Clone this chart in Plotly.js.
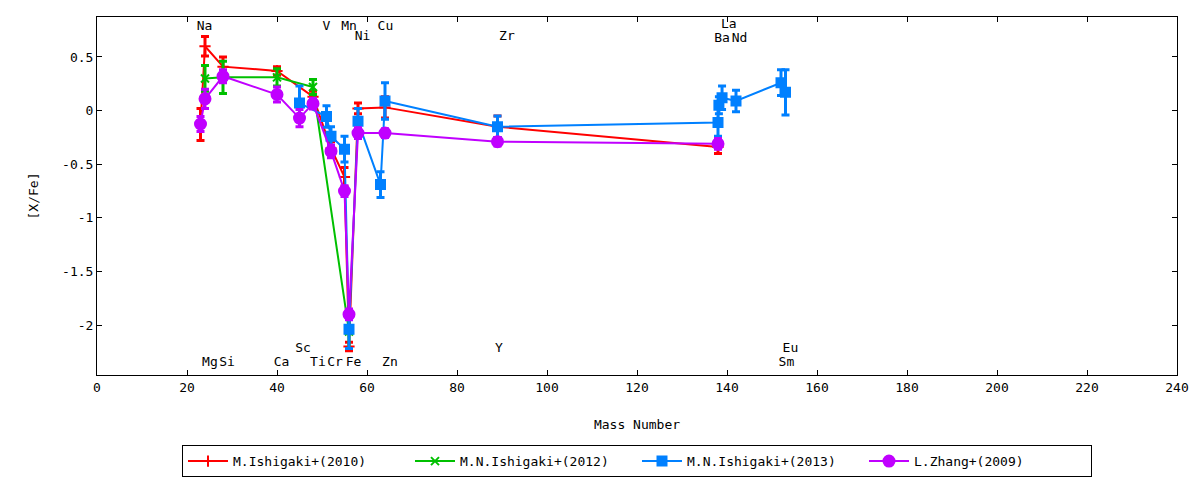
<!DOCTYPE html>
<html>
<head>
<meta charset="utf-8">
<script src="https://cdn.plot.ly/plotly-3.0.1.min.js"></script>
<style>html,body{margin:0;padding:0;background:#fff;}#chart{width:1200px;height:480px;}</style>
</head>
<body>
<div id="chart"></div>
<script>
// M.Ishigaki+(2010)
const redX   = [23, 24, 28, 40, 48, 52, 55, 56, 58, 64, 89, 138];
const redY   = [-0.13, 0.60, 0.41, 0.37, 0.13, -0.35, -0.62, -2.20, 0.02, 0.03, -0.15, -0.34];
const redErr = [0.15, 0.09, 0.09, 0.04, 0.05, 0.06, 0.09, 0.04, 0.05, 0.10, 0.10, 0.06];
// M.N.Ishigaki+(2012)
const greenX   = [24, 28, 40, 48, 56];
const greenY   = [0.30, 0.31, 0.31, 0.22, -2.06];
const greenErr = [0.12, 0.15, 0.08, 0.07, 0.16];
// M.N.Ishigaki+(2013)
const blueX   = [45, 51, 52, 55, 56, 58, 63, 64, 89, 138, 138.2, 138.9, 142, 152, 153];
const blueY   = [0.07, -0.055, -0.24, -0.36, -2.04, -0.10, -0.69, 0.09, -0.15, -0.11, 0.05, 0.12, 0.09, 0.26, 0.17];
const blueErr = [0.16, 0.10, 0.09, 0.12, 0.18, 0.12, 0.12, 0.17, 0.10, 0.13, 0.08, 0.11, 0.10, 0.12, 0.21];
// L.Zhang+(2009)
const purpleX   = [23, 24, 28, 40, 45, 48, 52, 55, 56, 58, 64, 89, 138];
const purpleY   = [-0.125, 0.11, 0.32, 0.15, -0.07, 0.065, -0.38, -0.75, -1.90, -0.21, -0.21, -0.29, -0.31];
const purpleErr = [0.07, 0.09, 0.06, 0.07, 0.08, 0.05, 0.06, 0.05, 0.05, 0.05, 0.04, 0.04, 0.05];

// element labels
const elemNames = ["Na","V","Mn","Cu","La","Ni","Zr","Ba","Nd","Sc","Y","Eu","Mg","Si","Ca","Ti","Cr","Fe","Zn","Sm"];
const elemX     = [23.9, 51, 56, 64.1, 140.4, 59, 91.1, 138.9, 142.8, 45.8, 89.3, 154.1, 25.1, 28.9, 41, 49.1, 52.9, 57, 65.1, 153.2];
const elemY     = [0.78, 0.78, 0.78, 0.78, 0.80, 0.687, 0.687, 0.672, 0.672, -2.22, -2.22, -2.22, -2.355, -2.355, -2.355, -2.355, -2.355, -2.355, -2.355, -2.355];

const xTicks = [0, 20, 40, 60, 80, 100, 120, 140, 160, 180, 200, 220, 240];
const yTicks = [0.5, 0, -0.5, -1, -1.5, -2];
const yTickText = ["0.5", "0", "-0.5", "-1", "-1.5", "-2"];

const FONT = "DejaVu Sans Mono, monospace";

function series(name, x, y, err, color, symbol, msize) {
  return {
    type: 'scatter', mode: 'lines+markers', name: name, x: x, y: y,
    line: {color: color, width: 2},
    marker: {color: color, symbol: symbol, size: msize, line: {color: color, width: 2}},
    error_y: {type: 'data', array: err, visible: true, color: color, thickness: 3, width: 4},
    cliponaxis: false
  };
}

const traces = [
  series('M.Ishigaki+(2010)', redX, redY, redErr, '#ff0000', 'cross-thin', 8),
  series('M.N.Ishigaki+(2012)', greenX, greenY, greenErr, '#00c000', 'x-thin', 8),
  series('M.N.Ishigaki+(2013)', blueX, blueY, blueErr, '#0080ff', 'square', 9),
  series('L.Zhang+(2009)', purpleX, purpleY, purpleErr, '#c000ff', 'circle', 11),
  {type: 'scatter', mode: 'text', x: elemX, y: elemY, text: elemNames, showlegend: false,
   textposition: 'middle center', textfont: {family: FONT, size: 13, color: '#000'}, hoverinfo: 'skip', cliponaxis: false}
];

const layout = {
  width: 1200, height: 480,
  margin: {l: 97, r: 23, t: 17, b: 105, autoexpand: false},
  paper_bgcolor: '#fff', plot_bgcolor: '#fff',
  font: {family: FONT, size: 13, color: '#000'},
  showlegend: true,
  xaxis: {
    range: [0, 240], tickvals: xTicks, ticks: 'inside', ticklen: 5, tickcolor: '#000',
    showline: true, linecolor: '#000', linewidth: 1, mirror: 'ticks', showgrid: false, zeroline: false,
    title: {text: 'Mass Number', font: {family: FONT, size: 13}, standoff: 26},
    tickfont: {family: FONT, size: 13}
  },
  yaxis: {
    range: [-2.466, 0.873], tickvals: yTicks, ticktext: yTickText, ticks: 'inside', ticklen: 5, tickcolor: '#000',
    showline: true, linecolor: '#000', linewidth: 1, mirror: 'ticks', showgrid: false, zeroline: false,
    title: {text: '[X/Fe]', font: {family: FONT, size: 13}, standoff: 20},
    tickfont: {family: FONT, size: 13}
  },
  legend: {
    orientation: 'h', x: 0.5, xanchor: 'center', y: -0.196, yanchor: 'top',
    bordercolor: '#000', borderwidth: 1, bgcolor: '#fff',
    font: {family: FONT, size: 13}, entrywidth: 172, entrywidthmode: 'pixels',
    itemwidth: 40
  }
};

Plotly.newPlot('chart', traces, layout, {displayModeBar: false, staticPlot: true});
</script>
</body>
</html>
